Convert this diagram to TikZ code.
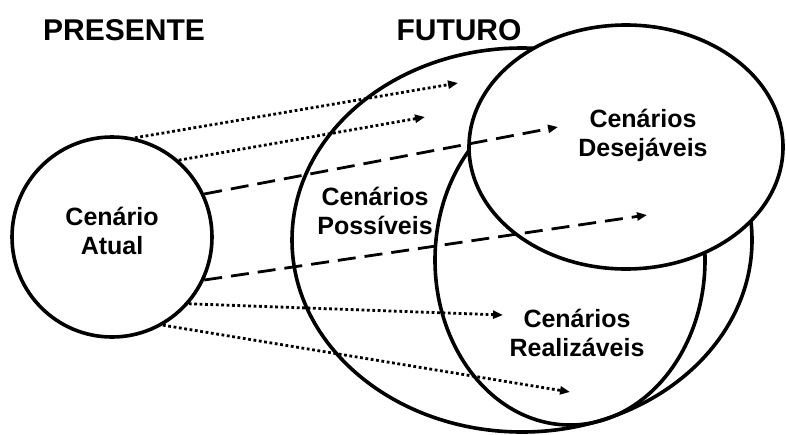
\documentclass[tikz,border=0pt]{standalone}
\usepackage{fontspec}
\setmainfont{Liberation Sans}
\usetikzlibrary{arrows.meta}

\tikzset{
  rotulo/.style={font=\fontsize{25}{29}\selectfont\bfseries, align=center},
  titulo/.style={font=\fontsize{30}{32}\selectfont\bfseries},
  pontilhada/.style={line width=2.8pt, dash pattern=on 2.8pt off 2.6pt, -{Triangle[length=10pt,width=8pt]}},
  tracejada/.style={line width=2.8pt, dash pattern=on 18pt off 9pt, -{Triangle[length=10pt,width=8pt]}},
}

\begin{document}
\begin{tikzpicture}[x=1pt, y=-1pt, line width=3.6pt]

\useasboundingbox (0,0) rectangle (786,434);

\node[titulo] (presente) at (124,30) {PRESENTE};
\node[titulo] (futuro) at (459,30) {FUTURO};

\draw (522,240) ellipse [x radius=230, y radius=192];
\draw (570,260) ellipse [x radius=135, y radius=165];
\draw[fill=white] (626,147) ellipse [x radius=157, y radius=122];

\node[draw, circle, minimum size=200pt, inner sep=0pt] (atual) at (112,237) {};
\node[rotulo] (atualtxt) at (112,231) {Cenário\\Atual};
\node[rotulo] (possiveis) at (375,211) {Cenários\\Possíveis};
\node[rotulo] (desejaveis) at (643,135) {Cenários\\Desejáveis};
\node[rotulo] (realizaveis) at (577,333) {Cenários\\Realizáveis};

\coordinate (p1) at (458,83);
\coordinate (p2) at (425,117);
\coordinate (d1) at (558,127);
\coordinate (d2) at (647,215);
\coordinate (r1) at (503,315);
\coordinate (r2) at (570,392);

\draw[pontilhada] (atual.77) -- (p1);
\draw[pontilhada] (atual.49) -- (p2);
\draw[tracejada] (atual.25) -- (d1);
\draw[tracejada] (atual.-25) -- (d2);
\draw[pontilhada] (atual.-41) -- (r1);
\draw[pontilhada] (atual.-60) -- (r2);

\end{tikzpicture}
\end{document}
